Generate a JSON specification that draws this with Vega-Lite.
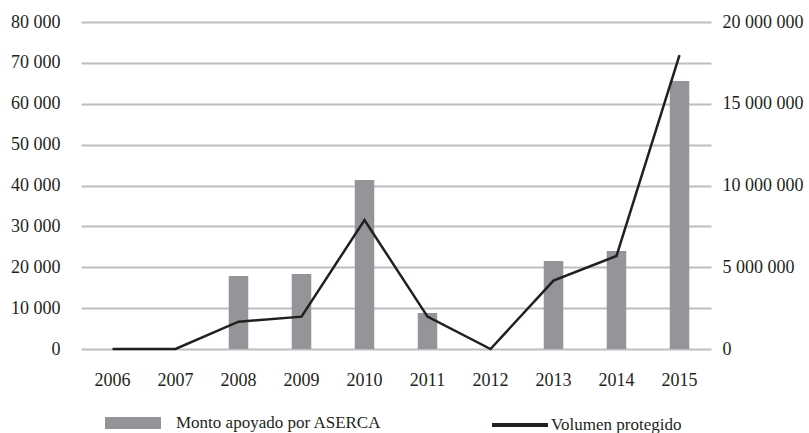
{
  "$schema": "https://vega.github.io/schema/vega-lite/v6.json",
  "autosize": "none",
  "width": 630,
  "height": 327,
  "padding": {"left": 81, "top": 22, "right": 98, "bottom": 84},
  "background": "white",
  "config": {
    "view": {"stroke": null},
    "font": "Liberation Serif",
    "locale": {"number": {"decimal": ".", "thousands": " ", "grouping": [3], "currency": ["$", ""]}},
    "axis": {"labelFont": "Liberation Serif", "labelColor": "#231f20", "labelFontSize": 18, "ticks": false, "tickSize": 0, "domain": false, "title": null}
  },
  "data": {
    "values": [
      {"year": "2006", "monto": 0, "volumen": 0},
      {"year": "2007", "monto": 0, "volumen": 0},
      {"year": "2008", "monto": 17860, "volumen": 1670000},
      {"year": "2009", "monto": 18350, "volumen": 1980000},
      {"year": "2010", "monto": 41350, "volumen": 7890000},
      {"year": "2011", "monto": 8810, "volumen": 1980000},
      {"year": "2012", "monto": 0, "volumen": 0},
      {"year": "2013", "monto": 21530, "volumen": 4180000},
      {"year": "2014", "monto": 23980, "volumen": 5690000},
      {"year": "2015", "monto": 65570, "volumen": 17980000}
    ]
  },
  "encoding": {
    "x": {
      "field": "year", "type": "ordinal",
      "scale": {"paddingInner": 0, "paddingOuter": 0},
      "axis": {"labelAngle": 0, "labelPadding": 22, "grid": false}
    }
  },
  "layer": [
    {
      "mark": {"type": "bar", "size": 19.5},
      "encoding": {
        "y": {
          "field": "monto", "type": "quantitative",
          "scale": {"domain": [0, 80000], "nice": false},
          "axis": {"orient": "left", "values": [0, 10000, 20000, 30000, 40000, 50000, 60000, 70000, 80000], "format": ",.0f", "labelPadding": 21, "grid": true, "gridColor": "#bcbec0", "gridWidth": 2, "labelBaseline": "middle"}
        },
        "color": {
          "datum": "Monto apoyado por ASERCA",
          "scale": {"range": ["#939598"]},
          "legend": {"orient": "none", "legendX": 24, "legendY": 373, "title": null, "padding": 0, "symbolType": "M-1,-0.21H1V0.21H-1Z", "symbolSize": 3136, "symbolStrokeWidth": 0, "symbolOpacity": 1, "labelOffset": 15, "labelFont": "Liberation Serif", "labelFontSize": 17, "labelColor": "#231f20", "labelLimit": 400}
        }
      }
    },
    {
      "mark": {"type": "line", "strokeWidth": 2.5},
      "encoding": {
        "y": {
          "field": "volumen", "type": "quantitative",
          "scale": {"domain": [0, 20000000], "nice": false},
          "axis": {"orient": "right", "values": [0, 5000000, 10000000, 15000000, 20000000], "format": ",.0f", "labelPadding": 11, "grid": false, "labelBaseline": "middle"}
        },
        "stroke": {
          "datum": "Volumen protegido",
          "scale": {"range": ["#231f20"]},
          "legend": {"orient": "none", "legendX": 409, "legendY": 373, "title": null, "padding": 0, "symbolType": "stroke", "symbolSize": 3136, "symbolStrokeWidth": 4, "labelOffset": 1, "labelFont": "Liberation Serif", "labelFontSize": 17, "labelColor": "#231f20", "labelLimit": 400}
        }
      }
    }
  ],
  "resolve": {"scale": {"y": "independent"}}
}
